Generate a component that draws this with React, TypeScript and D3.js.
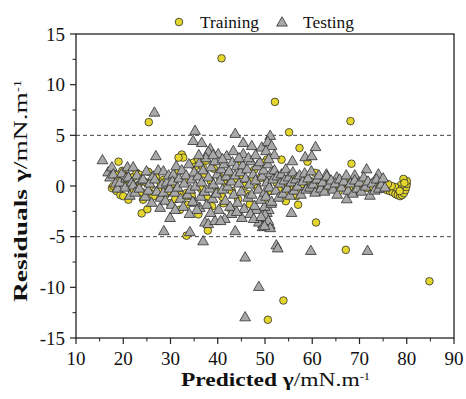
import React from "react";
import * as d3 from "d3";

// ---- data (x = predicted γ, y = residual) ----
const trainingPoints: [number, number][] = [
  // outliers
  [40.8, 12.6], [52.1, 8.3], [55.1, 5.3], [68.1, 6.4], [25.4, 6.3], [57.3, 3.75], [68.3, 2.2],
  [53.5, 2.6], [50.4, 2.6], [19.0, 2.4], [32.4, 3.1], [32.7, 2.8], [31.7, 2.8], [34.8, 2.3],
  [35.9, 2.6], [59.0, 2.4], [60.6, 1.3], [56.7, 0.95], [50.6, -13.2], [53.9, -11.3], [84.8, -9.4],
  [67.1, -6.3], [33.4, -4.9], [37.9, -4.4], [60.8, -3.6], [57.0, -1.85], [54.4, -1.5], [56.7, -1.0],
  [23.9, -2.7], [25.1, -2.3], [35.9, -2.8], [32.0, -2.35], [33.4, -1.85], [41.2, -1.7], [50.0, -2.2],
  [49.8, 2.3],
  // left band
  [17.6, -0.2], [17.9, 0.0], [18.3, 1.1], [18.6, -0.5], [18.9, 0.6], [19.4, -0.9], [20.0, -1.0],
  [20.3, 0.4], [20.8, 1.0], [21.1, -1.35], [21.5, 0.2], [21.8, -0.4], [22.2, 0.9], [22.8, 1.3],
  [23.2, 0.1], [23.5, 1.1], [23.9, -0.6], [24.2, -1.35], [24.6, 0.4], [25.3, 1.4], [25.7, 0.0],
  [26.1, -0.8], [26.4, -1.0], [26.9, 0.9], [27.4, -0.4], [27.9, 0.3], [28.5, 0.6], [28.9, -0.9],
  [29.5, -0.5], [29.9, -1.7], [30.3, 0.2], [30.9, 0.8], [31.3, -0.4], [31.7, 1.4], [32.2, -0.9],
  [33.0, 0.45], [33.4, -0.7], [33.5, -1.0], [34.5, -1.0], [35.2, 1.9], [31.0, -1.3], [19.8, 1.5],
  // middle band
  [36.5, -0.3], [37.2, 1.2], [37.8, -1.2], [38.5, 0.5], [39.2, 1.7], [39.8, -0.6], [40.4, 0.9],
  [41.0, -1.1], [41.7, 0.2], [42.3, 1.3], [43.0, -0.5], [43.6, 0.7], [44.3, -1.3], [45.0, 1.1],
  [45.7, 0.0], [46.3, -0.8], [47.0, 0.6], [47.7, 1.6], [48.4, -0.2], [49.1, 0.8], [49.8, -1.3],
  [50.5, 0.4], [51.2, -0.5], [51.9, 1.0], [36.8, 1.9], [37.5, 2.5], [38.8, -2.0], [42.8, -2.3],
  [46.8, -1.8], [44.6, 2.0],
  // right band
  [52.5, 0.3], [53.0, -0.4], [53.6, 0.6], [54.2, -0.7], [54.8, 0.1], [55.4, 0.9], [56.0, -0.3],
  [56.6, 0.4], [57.2, -0.6], [57.8, 0.2], [58.4, 0.7], [59.0, -0.2], [59.6, 0.5], [60.2, -0.5],
  [60.8, 0.3], [61.4, -0.1], [62.0, 0.6], [62.6, -0.4], [63.2, 0.1], [63.8, 0.5], [64.4, -0.2],
  [65.0, 0.3], [65.6, -0.5], [66.2, 0.1], [66.8, 0.6], [67.4, -0.3], [68.0, 0.2], [68.6, -0.1],
  [69.2, 0.4], [69.8, -0.4], [70.4, 0.1], [71.0, 0.5], [71.6, -0.2], [72.2, 0.3], [72.8, -0.1],
  // curl at the right end
  [73.4, 0.2], [74.0, -0.1], [74.6, -0.3], [75.2, -0.1], [75.8, -0.4], [76.4, -0.5], [77.0, -0.6],
  [77.6, -0.8], [78.1, -0.9], [78.6, -1.0], [79.0, -0.9], [79.4, -0.7], [79.7, -0.4], [79.9, -0.1],
  [80.0, 0.2], [80.0, 0.5], [79.3, 0.7], [78.8, 0.1], [78.2, -0.3], [77.5, -0.1], [76.8, 0.0],
  [76.0, 0.2], [79.5, 0.3], [78.5, -0.5],
];

const testingPoints: [number, number][] = [
  // outliers
  [15.6, 2.5], [26.6, 7.2], [26.9, 2.9], [35.2, 5.4], [34.8, 4.4], [36.6, 4.2], [38.4, 3.6],
  [38.0, 3.3], [40.1, 3.1], [41.9, 2.9], [43.3, 3.4], [43.7, 5.1], [45.4, 4.2], [47.2, 3.9],
  [45.4, 3.1], [49.3, 3.75], [51.1, 4.9], [50.6, 4.3], [51.4, 3.9], [50.2, 3.4], [60.7, 3.8],
  [58.5, 2.8], [59.9, 2.9], [55.8, 2.4], [71.5, 1.6], [74.0, 1.1], [69.0, 1.0], [63.0, 1.1],
  [65.2, 0.8],
  [45.8, -13.0], [48.7, -10.0], [45.8, -7.1], [52.4, -5.9], [52.7, -6.2], [59.7, -6.45],
  [71.7, -6.45], [28.6, -4.5], [36.9, -5.5], [34.1, -4.6], [43.7, -4.5], [29.9, -3.2], [27.8, -2.2],
  [42.9, -2.8], [41.5, -3.3], [37.3, -3.65], [38.0, -3.8], [39.4, -3.5], [45.1, -3.2], [36.2, -2.2],
  [35.2, -1.7], [50.4, -2.7], [49.6, -3.8], [55.6, -2.7], [67.3, -1.35], [40.6, -3.5], [48.7, -3.65],
  [49.5, -4.1], [50.3, -3.2], [51.0, -3.9], [50.8, -2.4], [49.9, -2.1], [51.3, -1.8], [48.2, -2.4],
  // band 16-20
  [16.8, 1.3], [17.2, 0.8], [17.6, 1.8], [17.9, 1.1], [18.4, 0.2], [18.8, -0.3], [19.3, 0.3],
  [19.7, 1.2], [20.4, -0.2], [20.9, 1.8], [20.6, 0.7],
  // band 21-25
  [21.1, 0.8], [21.4, -1.0], [21.8, 0.3], [22.1, 1.8], [22.1, 0.0], [22.5, -0.7], [22.9, 1.0],
  [23.4, -0.3], [23.8, 0.5], [24.2, 0.6], [24.6, -1.1], [24.9, 1.4], [25.3, -0.5], [25.6, 0.2],
  // band 26-30
  [26.0, -1.7], [26.3, 0.9], [26.7, 0.6], [27.1, -0.6], [27.4, 1.5], [27.9, -1.2], [28.2, 0.1],
  [28.5, 1.4], [28.5, -0.7], [28.9, -1.5], [29.2, 0.3], [29.6, 1.0], [29.8, -0.3], [30.2, -1.9],
  [30.6, 1.1], [30.9, -0.7], [30.4, 0.4],
  // band 31-35
  [31.2, 1.9], [31.5, -0.2], [31.8, 0.7], [32.1, -1.3], [32.4, 1.5], [32.7, -2.1], [32.9, 0.2],
  [33.3, 1.0], [33.6, -0.9], [33.9, 2.1], [34.2, -0.4], [34.5, 0.6], [34.7, -1.6], [35.0, 1.3],
  [35.3, -0.1], [35.6, -2.4], [35.8, 0.9],
  // band 36-40
  [36.1, 2.2], [36.4, -1.1], [36.6, 0.3], [36.9, 1.5], [37.2, -0.6], [37.5, 2.7], [37.7, -1.9],
  [38.0, 0.8], [38.3, -0.3], [38.6, 1.8], [38.9, -1.3], [39.1, 0.1], [39.4, 2.4], [39.7, -0.8],
  [39.9, 1.1], [40.2, -2.4], [40.5, 0.5], [40.8, 1.6],
  // band 41-45
  [41.0, -0.4], [41.3, 2.1], [41.6, -1.5], [41.8, 0.9], [42.1, -0.1], [42.4, 1.4], [42.6, -2.1],
  [42.9, 0.4], [43.1, 2.3], [43.4, -0.9], [43.7, 1.0], [44.0, 1.9], [44.2, -1.7], [44.5, 0.2],
  [44.8, 1.3], [45.0, -0.6], [45.3, 2.0],
  // band 46-52
  [45.6, -2.3], [45.9, 0.7], [46.2, 1.6], [46.4, -1.2], [46.7, 0.1], [47.0, 2.4], [47.2, -0.9],
  [47.5, 1.1], [47.8, -2.0], [48.0, 0.5], [48.3, 1.9], [48.6, -0.4], [48.9, 2.3], [49.1, -1.4],
  [49.4, 0.9], [49.7, 1.5], [49.9, -0.7], [50.2, -1.1], [50.4, 0.3], [50.6, 2.1], [50.9, -0.2],
  [51.2, 1.2], [51.4, -1.6], [51.7, 0.6],
  // band 52-56
  [52.0, 1.5], [52.3, -0.5], [52.6, 0.9], [52.9, -1.2], [53.2, 0.2], [53.5, 1.1], [53.8, -0.8],
  [54.1, 0.5], [54.4, 1.6], [54.7, -0.3], [55.0, 0.8], [55.3, -1.0], [55.6, 0.3], [55.9, 1.3],
  // band 56-62
  [56.2, -0.5], [56.5, 0.6], [56.9, -0.1], [57.3, 1.0], [57.6, -0.9], [58.0, 0.4], [58.4, 1.2],
  [58.7, -0.4], [59.1, 0.7], [59.5, -0.2], [59.8, 1.4], [60.2, 0.1], [60.6, -0.7], [61.0, 0.6],
  [61.4, 1.0], [61.8, -0.3],
  // band 62-70
  [62.2, 0.3], [62.6, -0.6], [63.1, 0.9], [63.5, 0.0], [64.0, 0.5], [64.4, -0.4], [64.9, 0.2],
  [65.3, -0.9], [65.8, 0.6], [66.2, -0.2], [66.7, 0.4], [67.2, 1.0], [67.6, -0.5], [68.1, 0.2],
  [68.6, -0.8], [69.0, 0.5], [69.5, -0.3],
  // band 70-76
  [70.0, 0.3], [70.4, -0.6], [70.9, 0.8], [71.3, -0.1], [71.8, 0.4], [72.2, -1.0], [72.7, 0.2],
  [73.2, -0.5], [73.6, 0.6], [74.1, -0.3], [74.6, 0.1], [75.4, -0.2], [75.0, 0.7],
  // extra spread
  [31.0, -2.4], [34.0, -2.8], [38.5, -2.7], [44.0, -2.6], [46.9, -2.8], [47.6, -3.3], [50.0, -2.9],
  [49.2, -3.1], [50.7, -3.5], [51.1, -4.2], [49.9, -4.0], [36.0, 3.0], [39.0, 3.0], [41.0, 2.6],
  [44.5, 2.7], [46.5, 2.7], [48.0, 3.0], [52.0, 3.0], [50.8, 2.6],
];

const xTicks = [10, 20, 30, 40, 50, 60, 70, 80, 90];
const xMinorTicks = [15, 25, 35, 45, 55, 65, 75, 85];
const yTicks = [-15, -10, -5, 0, 5, 10, 15];
const yMinorTicks = [-12.5, -7.5, -2.5, 2.5, 7.5, 12.5];
const refLines = [5, -5];
const seriesNames = ["Training", "Testing"];

const FONT = "'Liberation Serif', 'Times New Roman', serif";
const CIRCLE_FILL = "#e4d62c";
const TRI_FILL = "#a8a8a8";
const STROKE = "#2e2e2e";

export default function App() {
  const left = 76, right = 454, top = 34, bottom = 338;
  const x = d3.scaleLinear().domain([10, 90]).range([left, right]);
  const y = d3.scaleLinear().domain([-15, 15]).range([bottom, top]);
  const tri = d3.symbol(d3.symbolTriangle, 50)() as string;

  return (
    <svg
      width={466}
      height={399}
      style={{ position: "absolute", left: 0, top: 0, background: "#fff" }}
      fontFamily={FONT}
    >
      <rect x={0} y={0} width={466} height={399} fill="#fff" />
      {/* reference dashed lines */}
      {refLines.map((v) => (
        <line
          key={v}
          x1={left}
          x2={right}
          y1={y(v)}
          y2={y(v)}
          stroke="#444"
          strokeWidth={1}
          strokeDasharray="4,3"
        />
      ))}

      {/* training circles */}
      <g>
        {trainingPoints.map(([px, py], i) => (
          <circle
            key={i}
            cx={x(px)}
            cy={y(py)}
            r={3.8}
            fill={CIRCLE_FILL}
            stroke={STROKE}
            strokeWidth={0.8}
          />
        ))}
      </g>
      {/* testing triangles */}
      <g>
        {testingPoints.map(([px, py], i) => (
          <path
            key={i}
            d={tri}
            transform={`translate(${x(px)},${y(py)})`}
            fill={TRI_FILL}
            stroke={STROKE}
            strokeWidth={0.8}
          />
        ))}
      </g>

      {/* frame */}
      <rect
        x={left}
        y={top}
        width={right - left}
        height={bottom - top}
        fill="none"
        stroke="#222"
        strokeWidth={1.3}
      />

      {/* x ticks */}
      {xTicks.map((t) => (
        <g key={t}>
          <line x1={x(t)} x2={x(t)} y1={bottom} y2={bottom + 6} stroke="#222" strokeWidth={1.2} />
          <text x={x(t)} y={365} fontSize={19} textAnchor="middle" fill="#111">
            {t}
          </text>
        </g>
      ))}
      {xMinorTicks.map((t) => (
        <line key={t} x1={x(t)} x2={x(t)} y1={bottom} y2={bottom + 3.5} stroke="#222" strokeWidth={1} />
      ))}

      {/* y ticks */}
      {yTicks.map((t) => (
        <g key={t}>
          <line x1={left - 6} x2={left} y1={y(t)} y2={y(t)} stroke="#222" strokeWidth={1.2} />
          <text x={65} y={y(t)} dy="0.35em" fontSize={19} textAnchor="end" fill="#111">
            {t}
          </text>
        </g>
      ))}
      {yMinorTicks.map((t) => (
        <line key={t} x1={left - 3.5} x2={left} y1={y(t)} y2={y(t)} stroke="#222" strokeWidth={1} />
      ))}

      {/* axis titles */}
      <text x={181} y={386} fontSize={19} fill="#111" textLength={189} lengthAdjust="spacingAndGlyphs">
        <tspan fontWeight="bold">Predicted γ</tspan>
        <tspan>/mN.m</tspan>
        <tspan fontSize={10} dy={-6}>-1</tspan>
      </text>
      <text
        transform="translate(27,302) rotate(-90)"
        x={0}
        y={0}
        fontSize={19}
        fill="#111"
        textLength={222}
        lengthAdjust="spacingAndGlyphs"
      >
        <tspan fontWeight="bold">Residuals γ</tspan>
        <tspan>/mN.m</tspan>
        <tspan fontSize={10} dy={-6}>-1</tspan>
      </text>

      {/* legend */}
      <circle cx={179} cy={22} r={3.8} fill={CIRCLE_FILL} stroke={STROKE} strokeWidth={0.8} />
      <text x={200} y={28} fontSize={17} fill="#111" textLength={59} lengthAdjust="spacingAndGlyphs">
        {seriesNames[0]}
      </text>
      <path d={tri} transform="translate(282,23)" fill={TRI_FILL} stroke={STROKE} strokeWidth={0.8} />
      <text x={303} y={28} fontSize={17} fill="#111" textLength={51} lengthAdjust="spacingAndGlyphs">
        {seriesNames[1]}
      </text>
    </svg>
  );
}
